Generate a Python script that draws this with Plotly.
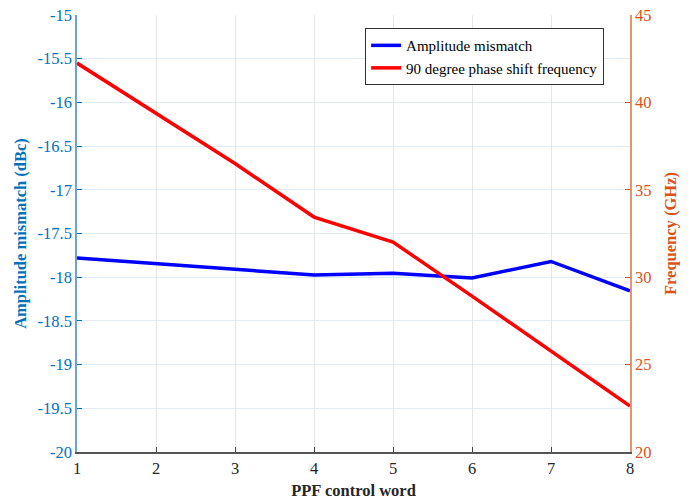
import plotly.graph_objects as go

control_word = [1, 2, 3, 4, 5, 6, 7, 8]
amplitude_mismatch = [-17.78, -17.84, -17.91, -17.975, -17.955, -18.01, -17.82, -18.155]
phase_shift_freq = [42.25, 39.4, 36.5, 33.44, 32.01, 28.92, 25.78, 22.63]

left_ticks = [-20, -19.5, -19, -18.5, -18, -17.5, -17, -16.5, -16, -15.5, -15]
left_ticklabels = ["-20", "-19.5", "-19", "-18.5", "-18", "-17.5", "-17", "-16.5", "-16", "-15.5", "-15"]
right_ticks = [20, 25, 30, 35, 40, 45]

BLUE_AX = "#0072BD"
ORANGE_AX = "#D95319"
FONT = "Liberation Serif"
FS = 16.5

fig = go.Figure()
fig.add_trace(go.Scatter(x=control_word, y=amplitude_mismatch, mode="lines",
                         name="Amplitude mismatch", line=dict(color="#0000FF", width=3.5),
                         yaxis="y"))
fig.add_trace(go.Scatter(x=control_word, y=phase_shift_freq, mode="lines",
                         name="90 degree phase shift frequency", line=dict(color="#FF0000", width=3.5),
                         yaxis="y2"))

fig.update_layout(
    width=699, height=502,
    margin=dict(l=77, r=69, t=15, b=50),
    paper_bgcolor="white", plot_bgcolor="white",
    font=dict(family=FONT, size=FS, color="#262626"),
    showlegend=True,
    legend=dict(x=0.521, y=0.97, xanchor="left", yanchor="top",
                bgcolor="white", bordercolor="#333333", borderwidth=1,
                font=dict(family=FONT, size=15, color="black"),
                tracegroupgap=0, itemwidth=30),
    xaxis=dict(range=[1, 8], tickvals=control_word, ticks="inside", ticklen=5,
               tickcolor="#444444", showline=True, linecolor="#555555", linewidth=1.5,
               showgrid=True, gridcolor="#E6E6E6", gridwidth=1, zeroline=False,
               automargin=False, ticklabeloverflow="allow",
               tickfont=dict(family=FONT, size=FS, color="#262626"),
               title=dict(text="<b>PPF control word</b>", standoff=8,
                          font=dict(family=FONT, size=FS, color="#262626"))),
    yaxis=dict(range=[-20, -15], tickvals=left_ticks, ticktext=left_ticklabels,
               ticks="inside", ticklen=5, tickcolor=BLUE_AX,
               showline=True, linecolor="#6FA3CF", linewidth=1.5,
               showgrid=True, gridcolor="#E1ECF5", gridwidth=1, zeroline=False,
               automargin=False, ticklabeloverflow="allow",
               tickfont=dict(family=FONT, size=FS, color=BLUE_AX),
               title=dict(text="<b>Amplitude mismatch (dBc)</b>", standoff=7,
                          font=dict(family=FONT, size=FS, color=BLUE_AX))),
    yaxis2=dict(range=[20, 45], tickvals=right_ticks, overlaying="y", side="right",
                ticks="inside", ticklen=5, tickcolor=ORANGE_AX,
                showline=True, linecolor="#E3956E", linewidth=1.5,
                showgrid=False, zeroline=False, automargin=False,
                ticklabeloverflow="allow",
                tickfont=dict(family=FONT, size=FS, color=ORANGE_AX),
                title=dict(text="<b>Frequency (GHz)</b>", standoff=14,
                           font=dict(family=FONT, size=FS, color=ORANGE_AX))),
)

# remove the default 8px page margin so the figure fills the window exactly
fig.write_html("out.html", config={"displayModeBar": False},
               post_script="document.body.style.margin='0px';")
